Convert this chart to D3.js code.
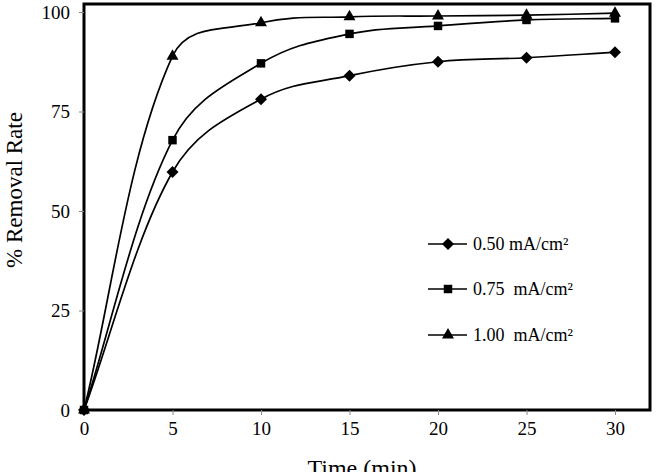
<!DOCTYPE html>
<html><head><meta charset="utf-8">
<script src="https://cdn.jsdelivr.net/npm/d3@7"></script>
<style>body{margin:0;background:#fff}svg{display:block}text{font-family:"Liberation Serif","Times New Roman",Tinos,"DejaVu Serif",serif;fill:#000}</style>
</head><body><svg id="c" width="656" height="472"></svg>
<script>
const times = [0, 5, 10, 15, 20, 25, 30];
const s050 = [0, 59.8, 78.1, 84.0, 87.5, 88.5, 89.9];
const s075 = [0, 67.8, 87.1, 94.5, 96.5, 98.0, 98.4];
const s100 = [0, 88.9, 97.3, 98.8, 99.0, 99.2, 99.7];
const seriesNames = ["0.50 mA/cm\u00B2", "0.75  mA/cm\u00B2", "1.00  mA/cm\u00B2"];
const xTicks = [0, 5, 10, 15, 20, 25, 30];
const yTicks = [0, 25, 50, 75, 100];

const svg = d3.select("#c");
const L = 84, R = 650, T = 4, B = 410;
const x = d3.scaleLinear().domain([0, 32]).range([L, L + 32 * 17.7]);
const y = d3.scaleLinear().domain([0, 100]).range([B, 12]);

svg.append("rect").attr("x", L).attr("y", T).attr("width", R - L).attr("height", B - T)
  .attr("fill", "none").attr("stroke", "#000").attr("stroke-width", 3);

const xa = svg.append("g").attr("transform", `translate(0,${B})`)
  .call(d3.axisBottom(x).tickValues(xTicks).tickSize(5).tickPadding(7));
const ya = svg.append("g").attr("transform", `translate(${L},0)`)
  .call(d3.axisLeft(y).tickValues(yTicks).tickSize(5).tickPadding(9));
[xa, ya].forEach(g => {
  g.attr("font-family", null);
  g.select(".domain").remove();
  g.selectAll(".tick line").attr("stroke", "#888").attr("stroke-width", 1);
  g.selectAll("text").attr("font-size", 19);
});

// Excel-like smoothed line: tangent along neighbours, handle length proportional to segment length
function smoothPath(vals) {
  const P = vals.map((v, i) => [x(times[i]), y(v)]);
  const n = P.length;
  const tan = P.map((p, i) => {
    const a = P[Math.max(0, i - 1)], b = P[Math.min(n - 1, i + 1)];
    const dx = b[0] - a[0], dy = b[1] - a[1], l = Math.hypot(dx, dy);
    return [dx / l, dy / l];
  });
  const p = d3.path();
  p.moveTo(P[0][0], P[0][1]);
  for (let i = 0; i < n - 1; i++) {
    const a = P[i], b = P[i + 1];
    const k = i === 0 ? 0.3 : 0.38;
    const h = k * Math.hypot(b[0] - a[0], b[1] - a[1]);
    p.bezierCurveTo(a[0] + tan[i][0] * h, a[1] + tan[i][1] * h,
                    b[0] - tan[i + 1][0] * h, b[1] - tan[i + 1][1] * h, b[0], b[1]);
  }
  return p.toString();
}

const data = [s050, s075, s100];
const diamond = {draw(ctx, size) { const r = Math.sqrt(size / 2); ctx.moveTo(0, -r); ctx.lineTo(r, 0); ctx.lineTo(0, r); ctx.lineTo(-r, 0); ctx.closePath(); }};
const shapes = [diamond, d3.symbolSquare, d3.symbolTriangle];
const sizes = [72, 72, 62];

data.forEach(s => {
  svg.append("path").attr("d", smoothPath(s)).attr("fill", "none").attr("stroke", "#000").attr("stroke-width", 1.7);
});
data.forEach((s, k) => {
  svg.selectAll(null).data(s).enter().append("path")
    .attr("transform", (d, i) => `translate(${x(times[i])},${y(d)})`)
    .attr("d", d3.symbol().type(shapes[k]).size(sizes[k]));
});

const legY = [244, 289, 335];
seriesNames.forEach((n, k) => {
  const g = svg.append("g").attr("transform", `translate(428,${legY[k]})`);
  g.append("line").attr("x1", 0).attr("x2", 39).attr("stroke", "#000").attr("stroke-width", 1.7);
  g.append("path").attr("transform", `translate(20,0)`)
    .attr("d", d3.symbol().type(shapes[k]).size(sizes[k]));
  g.append("text").attr("x", 45).attr("y", 6).attr("font-size", 18).style("white-space", "pre").text(n);
});

svg.append("text").attr("x", 362).attr("y", 476).attr("text-anchor", "middle").attr("font-size", 24).text("Time (min)");
svg.append("text").attr("transform", "translate(22,190) rotate(-90)").attr("text-anchor", "middle").attr("font-size", 23).text("% Removal Rate");
</script></body></html>
